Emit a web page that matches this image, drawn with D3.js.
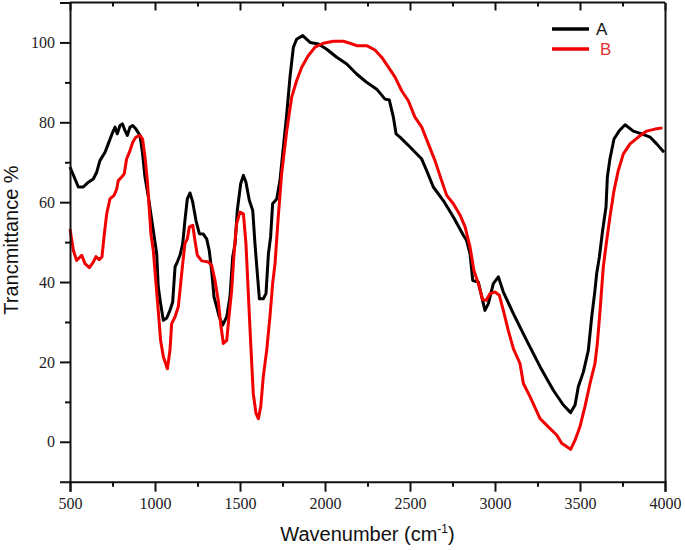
<!DOCTYPE html>
<html>
<head>
<meta charset="utf-8">
<script src="https://cdn.jsdelivr.net/npm/d3@7"></script>
<style>
  html, body { margin: 0; padding: 0; background: #fff; }
  svg { display: block; }
</style>
</head>
<body>
<svg id="chart" width="685" height="550"></svg>
<script>
// ---- Data ----
const seriesNames = ["A", "B"];
const seriesColors = ["#000000", "#f00000"];

const waveA = [500,549,578,608,637,657,676,706,725,751,765,778,794,808,824,837,853,869,888,912,927,941,961,990,1010,1019,1033,1049,1069,1088,1104,1118,1131,1147,1163,1176,1190,1206,1222,1241,1261,1284,1304,1319,1333,1347,1363,1378,1398,1422,1441,1457,1471,1484,1504,1520,1535,1555,1575,1588,1602,1614,1637,1653,1667,1680,1692,1716,1735,1755,1775,1794,1814,1833,1869,1912,1961,2010,2069,2128,2186,2245,2304,2353,2378,2402,2418,2441,2500,2569,2598,2637,2696,2755,2814,2833,2853,2869,2902,2922,2941,2961,2990,3020,3049,3108,3186,3265,3343,3402,3445,3471,3490,3520,3549,3569,3588,3598,3614,3633,3653,3661,3676,3700,3731,3765,3814,3863,3912,3951,3994];
const transA = [68.8,63.8,63.8,65,65.8,67.5,70.4,72.5,74.6,77.5,78.8,77.1,79.2,79.6,77.9,76.7,78.8,79.2,78.3,76.7,72.1,66.3,61.3,52.9,47.1,38.8,34.6,30.4,31,32.9,35,43.8,45,46.7,49.6,55.4,60.8,62.3,60,55.4,52.1,52,50.8,47.9,42.9,36.3,33.8,31.3,29.2,31.3,36.3,46.3,49.6,57.9,64.6,66.7,65,60.4,57.9,49.6,42.1,35.8,35.8,37.1,47,51.3,59.6,60.8,65.4,73.8,82.1,91.3,98.8,100.8,101.7,100,99.6,98.3,96.3,94.6,92.1,90,88.3,85.8,85.6,81.3,77.1,76.3,73.8,70.8,67.9,63.8,60.4,56.3,51.7,50.4,47.1,40.4,40,36.3,32.9,34.6,39.6,41.3,37.5,32.1,25.4,18.8,12.9,9.2,7.3,9.2,13.8,17.5,22.9,31.3,37.9,42.1,46.3,52.9,58.8,66.3,70.8,75.8,77.9,79.4,77.8,77.1,76.3,74.6,72.5];

const waveB = [500,520,539,569,588,614,637,653,672,688,700,716,735,759,775,784,804,819,833,853,869,888,912,927,941,955,967,976,990,1006,1019,1033,1049,1073,1088,1098,1118,1137,1151,1163,1176,1190,1202,1222,1235,1249,1275,1314,1333,1353,1372,1386,1402,1422,1435,1451,1465,1480,1500,1520,1535,1549,1563,1578,1594,1608,1622,1637,1657,1676,1692,1706,1725,1745,1775,1804,1833,1863,1902,1941,1990,2049,2108,2147,2186,2245,2294,2333,2373,2412,2451,2490,2529,2569,2608,2647,2686,2716,2755,2794,2824,2853,2876,2902,2927,2947,2971,3000,3025,3049,3078,3108,3147,3167,3206,3265,3324,3363,3392,3445,3471,3500,3529,3559,3588,3602,3618,3637,3657,3676,3700,3725,3755,3794,3843,3892,3941,3985];
const transB = [53.3,47.9,45.4,46.7,44.6,43.6,45,46.4,45.6,46.3,51.3,57.1,60.8,61.7,63.3,65.4,66.3,67.1,70.8,72.9,75,76.3,76.7,75.8,71.3,65.4,57.9,52.1,47.9,39.6,32.9,25.4,21.3,18.3,22.9,29.6,31.3,33.8,39.6,44.6,49.6,50.8,53.8,54.2,50.4,46.7,45.3,45,44.2,40.4,35.4,29.6,24.6,25.4,31.3,37.9,47.1,54.6,57.5,57.1,49.6,37.1,24.6,12.1,7.1,5.8,8.8,16.3,22.9,31.3,39.6,44.6,56.3,67.1,77.9,86.3,90.4,93.8,96.7,98.8,99.8,100.3,100.3,99.8,99.2,99.2,98.1,96.3,93.8,91.3,87.9,85.4,81.3,78.8,74.6,70.4,65.4,61.7,59.6,56.8,53.8,48.8,42.9,39.6,35.6,35.4,37.1,37.5,36.7,32.9,27.9,23.3,19.6,14.6,11.3,5.8,3.3,1.7,-0.4,-1.9,0.4,3.8,8.8,14.6,19.6,24.6,32.9,43.8,50.4,56.3,62.9,67.9,72.1,74.6,76.3,77.8,78.3,78.6];

const xMajorTicks = [500,1000,1500,2000,2500,3000,3500,4000];
const xMinorTicks = [750,1250,1750,2250,2750,3250,3750];
const yMajorTicks = [0,20,40,60,80,100];
const yMinorTicks = [10,30,50,70,90];

// ---- Layout ----
const svg = d3.select("#chart");
const L = 70, R = 665, T = 2.5, B = 481.7;

const x = d3.scaleLinear().domain([500, 4000]).range([L, R]);
const y = d3.scaleLinear().domain([-10, 110]).range([B, T]);

// Lines
const series = [
  waveA.map((w, i) => ({w, t: transA[i]})),
  waveB.map((w, i) => ({w, t: transB[i]}))
];
const line = d3.line().x(d => x(d.w)).y(d => y(d.t));

svg.append("g").selectAll("path")
  .data(series)
  .join("path")
  .attr("d", line)
  .attr("fill", "none")
  .attr("stroke", (d, i) => seriesColors[i])
  .attr("stroke-width", 3)
  .attr("stroke-linejoin", "round");

// Axes
const serifFont = "Liberation Serif";
const gx = svg.append("g").attr("transform", `translate(0,${B})`)
  .call(d3.axisBottom(x).tickValues(xMajorTicks).tickSize(10).tickPadding(6).tickFormat(d3.format("d")));
const gxm = svg.append("g").attr("transform", `translate(0,${B})`)
  .call(d3.axisBottom(x).tickValues(xMinorTicks).tickSize(5).tickFormat(""));
const gt = svg.append("g").attr("transform", `translate(0,${T})`)
  .call(d3.axisBottom(x).tickValues(xMajorTicks).tickSize(8).tickFormat(""));
const gtm = svg.append("g").attr("transform", `translate(0,${T})`)
  .call(d3.axisBottom(x).tickValues(xMinorTicks).tickSize(4).tickFormat(""));
const gy = svg.append("g").attr("transform", `translate(${L},0)`)
  .call(d3.axisLeft(y).tickValues(yMajorTicks).tickSize(10).tickPadding(5).tickFormat(d3.format("d")));
const gym = svg.append("g").attr("transform", `translate(${L},0)`)
  .call(d3.axisLeft(y).tickValues(yMinorTicks).tickSize(5).tickFormat(""));
const gr = svg.append("g").attr("transform", `translate(${R},0)`)
  .call(d3.axisRight(y).tickValues([]).tickSize(0).tickSizeOuter(0).tickFormat(""));

[gx, gxm, gt, gtm, gy, gym, gr].forEach(g => {
  g.attr("font-family", serifFont).attr("font-size", 16);
  g.selectAll(".domain").attr("stroke", "#111").attr("stroke-width", 2);
  g.selectAll(".tick line").attr("stroke", "#111").attr("stroke-width", 2);
  g.selectAll(".tick text").attr("fill", "#222");
});
[gxm, gt, gtm, gym].forEach(g => g.select(".domain").remove());
// top frame line
svg.append("line").attr("x1", L).attr("x2", R).attr("y1", T).attr("y2", T)
  .attr("stroke", "#111").attr("stroke-width", 2);

// Axis titles
const sansFont = "Liberation Sans";
const xt = svg.append("text")
  .attr("x", (L + R) / 2).attr("y", 541)
  .attr("text-anchor", "middle")
  .attr("font-family", sansFont).attr("font-size", 20).attr("fill", "#111");
xt.append("tspan").text("Wavenumber (cm");
xt.append("tspan").text("-1").attr("font-size", 12).attr("dy", -8);
xt.append("tspan").text(")").attr("dy", 8);

svg.append("text")
  .attr("transform", `translate(18,${240}) rotate(-90)`)
  .attr("text-anchor", "middle")
  .attr("font-family", sansFont).attr("font-size", 20).attr("fill", "#111")
  .text("Trancmittance %");

// Legend
const legendY = [29, 49];
const legendTextX = [596, 600];
const lg = svg.append("g");
seriesNames.forEach((name, i) => {
  lg.append("line")
    .attr("x1", 552).attr("x2", 589)
    .attr("y1", legendY[i]).attr("y2", legendY[i])
    .attr("stroke", seriesColors[i]).attr("stroke-width", 3.5);
  lg.append("text")
    .attr("x", legendTextX[i]).attr("y", legendY[i] + 6)
    .attr("font-family", sansFont).attr("font-size", 17)
    .attr("fill", i === 0 ? "#111" : "#e53030")
    .text(name);
});
</script>
</body>
</html>
